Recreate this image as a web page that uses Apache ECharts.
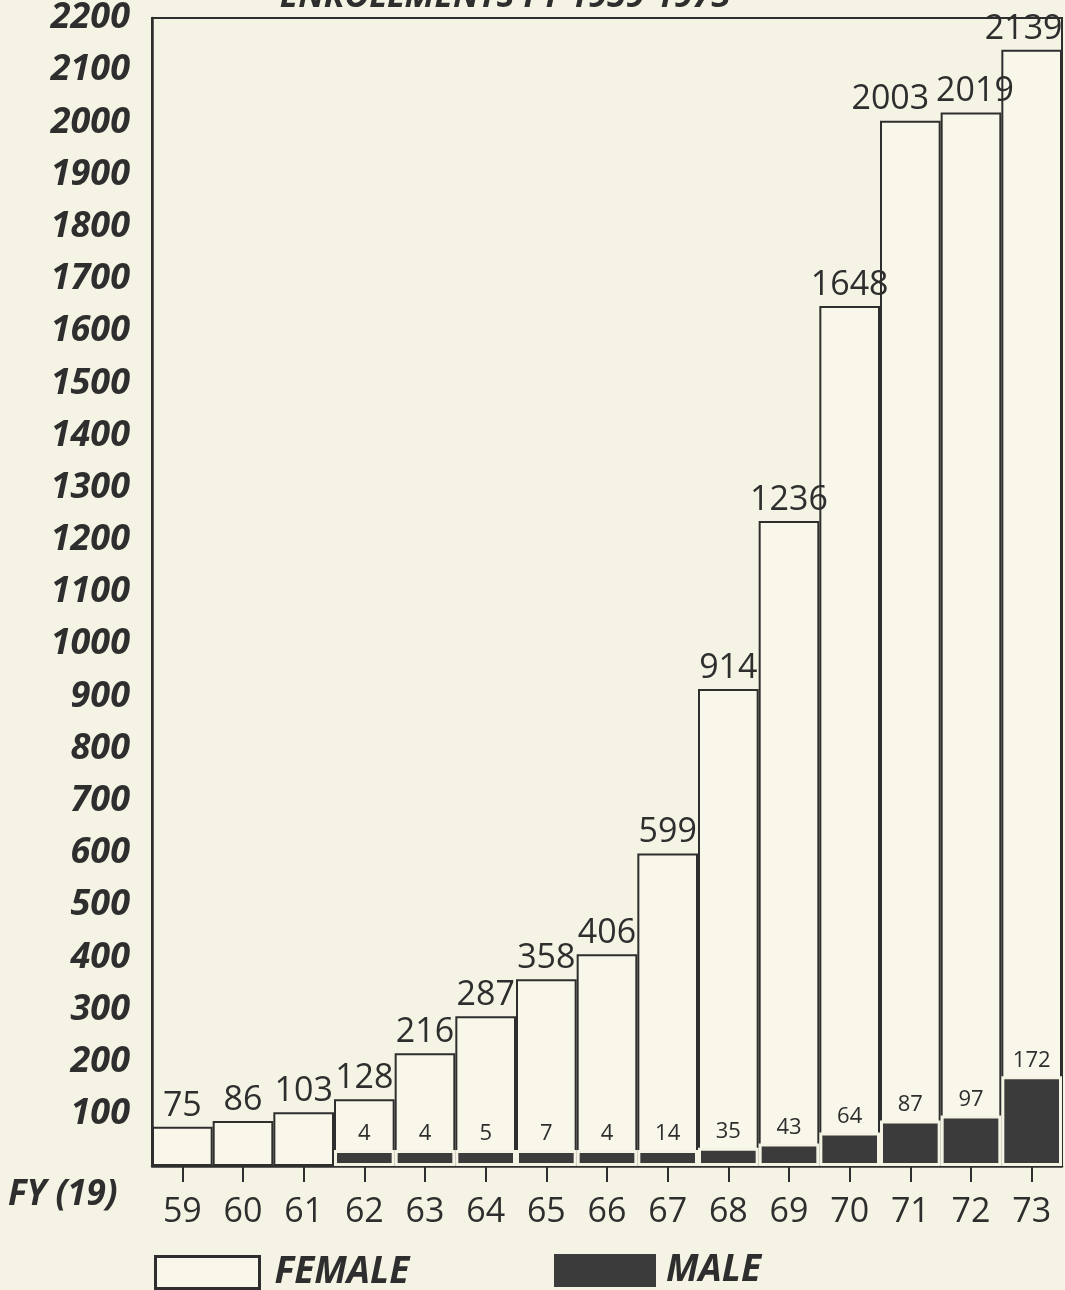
<!DOCTYPE html>
<html>
<head>
<meta charset="utf-8">
<script src="https://cdn.jsdelivr.net/npm/echarts@6/dist/echarts.min.js"></script>
<style>
html,body{margin:0;padding:0;background:#f5f4e4;}
#chart{width:1065px;height:1290px;}
</style>
</head>
<body>
<div id="chart"></div>
<script>
const years = ['59','60','61','62','63','64','65','66','67','68','69','70','71','72','73'];
const female = [75, 86, 103, 128, 216, 287, 358, 406, 599, 914, 1236, 1648, 2003, 2019, 2139];
const male = [null, null, null, 4, 4, 5, 7, 4, 14, 35, 43, 64, 87, 97, 172];
const yMin = 0, yMax = 2200, yStep = 100;
const titleText = 'ENROLLMENTS FY 1959-1973';
const xAxisTitle = 'FY (19)';

const ink = '#2e2e2e';
const bg = '#f5f4e4';
const font = 'Open Sans';
// small horizontal nudges for crowded value labels (style only)
const labelNudge = {12: -20, 13: 4, 14: -8};
const femaleData = female.map((v, i) => labelNudge[i] !== undefined
  ? {value: v, label: {offset: [labelNudge[i], 0]}} : v);

const chart = echarts.init(document.getElementById('chart'), null, {renderer: 'canvas'});
chart.setOption({
  backgroundColor: bg,
  animation: false,
  title: {
    text: titleText, left: 500, top: -25, textAlign: 'center',
    textStyle: {fontFamily: font, fontSize: 34, fontWeight: 'bold', fontStyle: 'italic', color: ink}
  },
  grid: {left: 152, right: 3, top: 18, bottom: 1290 - 1166, show: true, borderColor: ink, borderWidth: 2, backgroundColor: 'transparent'},
  xAxis: {
    type: 'category', data: years,
    axisLine: {lineStyle: {color: ink, width: 2.5}},
    axisTick: {show: true, alignWithLabel: true, length: 16, lineStyle: {color: ink, width: 2}},
    axisLabel: {margin: 29, fontFamily: font, fontSize: 34, color: ink}
  },
  yAxis: {
    type: 'value', min: yMin, max: yMax, interval: yStep,
    splitLine: {show: false},
    axisLine: {show: true, lineStyle: {color: ink, width: 2.5}},
    axisTick: {show: false},
    axisLabel: {margin: 22, fontFamily: font, fontSize: 36, fontWeight: 'bold', fontStyle: 'italic', color: ink,
      formatter: v => v === 0 ? '' : String(v)}
  },
  legend: [
    {data: ['FEMALE'], icon: 'rect', left: 154, top: 1254, padding: 0, itemWidth: 104, itemHeight: 32, itemGap: 0,
     itemStyle: {borderWidth: 3, borderColor: ink, color: '#f8f7ea'},
     textStyle: {fontFamily: font, fontSize: 37, fontWeight: 'bold', fontStyle: 'italic', color: ink, padding: [0, 0, 0, 10]}},
    {data: ['MALE'], icon: 'rect', left: 552, top: 1252, padding: 0, itemWidth: 104, itemHeight: 35, itemGap: 0,
     textStyle: {fontFamily: font, fontSize: 37, fontWeight: 'bold', fontStyle: 'italic', color: ink, padding: [0, 0, 0, 4]}}
  ],
  graphic: [
    {type: 'text', left: 8, top: 1178, style: {text: xAxisTitle, fontFamily: font, fontSize: 35, fontWeight: 'bold', fontStyle: 'italic', fill: ink}}
  ],
  series: [
    {
      name: 'FEMALE', type: 'bar', data: femaleData,
      barWidth: '100%', barGap: '-100%', barCategoryGap: 0,
      itemStyle: {color: '#f8f7ea', borderColor: ink, borderWidth: 2},
      label: {show: true, position: 'top', distance: 4, fontFamily: font, fontSize: 34, color: ink}
    },
    {
      name: 'MALE', type: 'bar', data: male,
      barWidth: '100%', barGap: '-100%', barMinHeight: 16,
      itemStyle: {color: '#3b3b3b', borderColor: bg, borderWidth: 3},
      label: {show: true, position: 'top', distance: 5, fontFamily: font, fontSize: 22, color: ink}
    }
  ]
});
</script>
</body>
</html>
